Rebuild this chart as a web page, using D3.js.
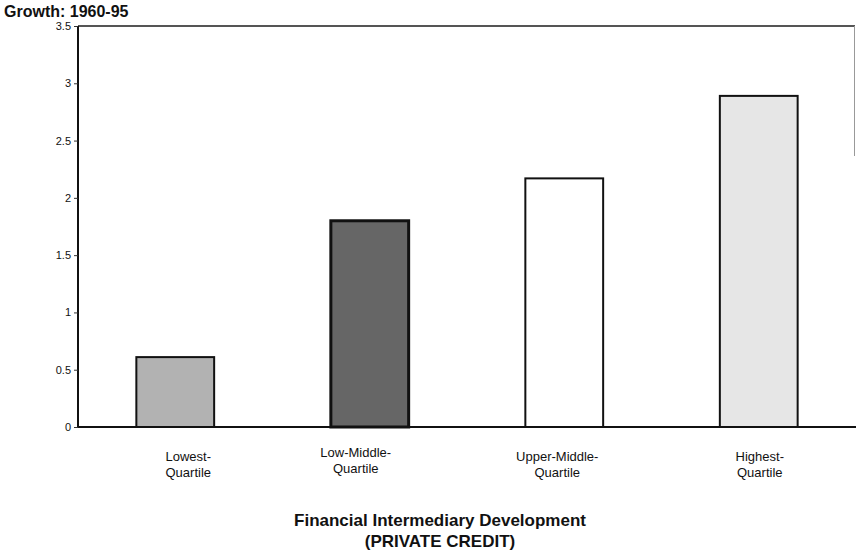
<!DOCTYPE html>
<html>
<head>
<meta charset="utf-8">
<script src="https://cdn.jsdelivr.net/npm/d3@7"></script>
<style>
  body { margin: 0; background: #fff; }
  text { font-family: "Liberation Sans", Arial, sans-serif; fill: #111; }
</style>
</head>
<body>
<div id="chart"></div>
<script>
// Data
const categories = ["Lowest-Quartile", "Low-Middle-Quartile", "Upper-Middle-Quartile", "Highest-Quartile"];
const labelLines = [["Lowest-", "Quartile"], ["Low-Middle-", "Quartile"], ["Upper-Middle-", "Quartile"], ["Highest-", "Quartile"]];
const growth = [0.61, 1.80, 2.17, 2.89];
const yTicks = [0, 0.5, 1, 1.5, 2, 2.5, 3, 3.5];
const yTickLabels = ["0", "0.5", "1", "1.5", "2", "2.5", "3", "3.5"];

const width = 856;
const height = 552;
const margin = { top: 26, right: 0, bottom: 125, left: 78 };
const chartWidth = width - margin.left - margin.right;
const chartHeight = height - margin.top - margin.bottom;

const fills = ["#b2b2b2", "#666666", "#ffffff", "#e6e6e6"];
const strokeW = [2, 3, 2, 2];
const labelDx = [13, -14, -7, 1];
const labelDy = [0, -4, 0, 0];

const svg = d3.select("#chart")
    .append("svg")
    .attr("width", width)
    .attr("height", height);

const chart = svg.append("g")
    .attr("transform", `translate(${margin.left}, ${margin.top})`);

const xScale = d3.scaleBand()
    .domain(categories)
    .range([0, chartWidth])
    .paddingInner(0.6)
    .paddingOuter(0.3);

const yScale = d3.scaleLinear()
    .domain([0, 3.5])
    .range([chartHeight, 0]);

// top frame line
chart.append("line")
    .attr("x1", 0).attr("x2", chartWidth - 1)
    .attr("y1", 0).attr("y2", 0)
    .attr("stroke", "#555")
    .attr("stroke-width", 2);

chart.append("line")
    .attr("x1", chartWidth - 1.5).attr("x2", chartWidth - 1.5)
    .attr("y1", 0).attr("y2", 130)
    .attr("stroke", "#999")
    .attr("stroke-width", 1);

// Bars
chart.selectAll("rect.bar")
    .data(growth)
    .enter()
    .append("rect")
    .attr("class", "bar")
    .attr("x", (d, i) => xScale(categories[i]))
    .attr("y", d => yScale(d))
    .attr("width", xScale.bandwidth())
    .attr("height", d => chartHeight - yScale(d))
    .attr("fill", (d, i) => fills[i])
    .attr("stroke", "#111")
    .attr("stroke-width", (d, i) => strokeW[i]);

// Axes
const yAxis = d3.axisLeft(yScale)
    .tickValues(yTicks)
    .tickFormat((d, i) => yTickLabels[i])
    .tickSize(4)
    .tickPadding(3);

const yG = chart.append("g").call(yAxis);
yG.select(".domain").attr("stroke", "#111").attr("stroke-width", 2).attr("d", `M0,0V${chartHeight}`);
yG.selectAll(".tick line").attr("stroke", "#333");
yG.selectAll("text").style("font-size", "11px").attr("fill", "#111");

chart.append("line")
    .attr("x1", 0).attr("x2", chartWidth)
    .attr("y1", chartHeight).attr("y2", chartHeight)
    .attr("stroke", "#111")
    .attr("stroke-width", 2);

// Category labels
const lab = chart.selectAll("text.cat")
    .data(labelLines)
    .enter()
    .append("text")
    .attr("class", "cat")
    .attr("text-anchor", "middle")
    .style("font-size", "13px")
    .attr("transform", (d, i) => `translate(${xScale(categories[i]) + xScale.bandwidth() / 2 + labelDx[i]}, ${chartHeight + 34 + labelDy[i]})`);

lab.selectAll("tspan")
    .data(d => d)
    .enter()
    .append("tspan")
    .attr("x", 0)
    .attr("dy", (d, i) => i === 0 ? 0 : 16)
    .text(d => d);

// Titles
svg.append("text")
    .attr("x", 4)
    .attr("y", 17)
    .style("font-size", "16px")
    .style("font-weight", "bold")
    .text("Growth: 1960-95");

svg.append("text")
    .attr("x", 440)
    .attr("y", 526)
    .attr("text-anchor", "middle")
    .style("font-size", "17px")
    .style("font-weight", "bold")
    .text("Financial Intermediary Development");

svg.append("text")
    .attr("x", 440)
    .attr("y", 547)
    .attr("text-anchor", "middle")
    .style("font-size", "17px")
    .style("font-weight", "bold")
    .text("(PRIVATE CREDIT)");
</script>
</body>
</html>
